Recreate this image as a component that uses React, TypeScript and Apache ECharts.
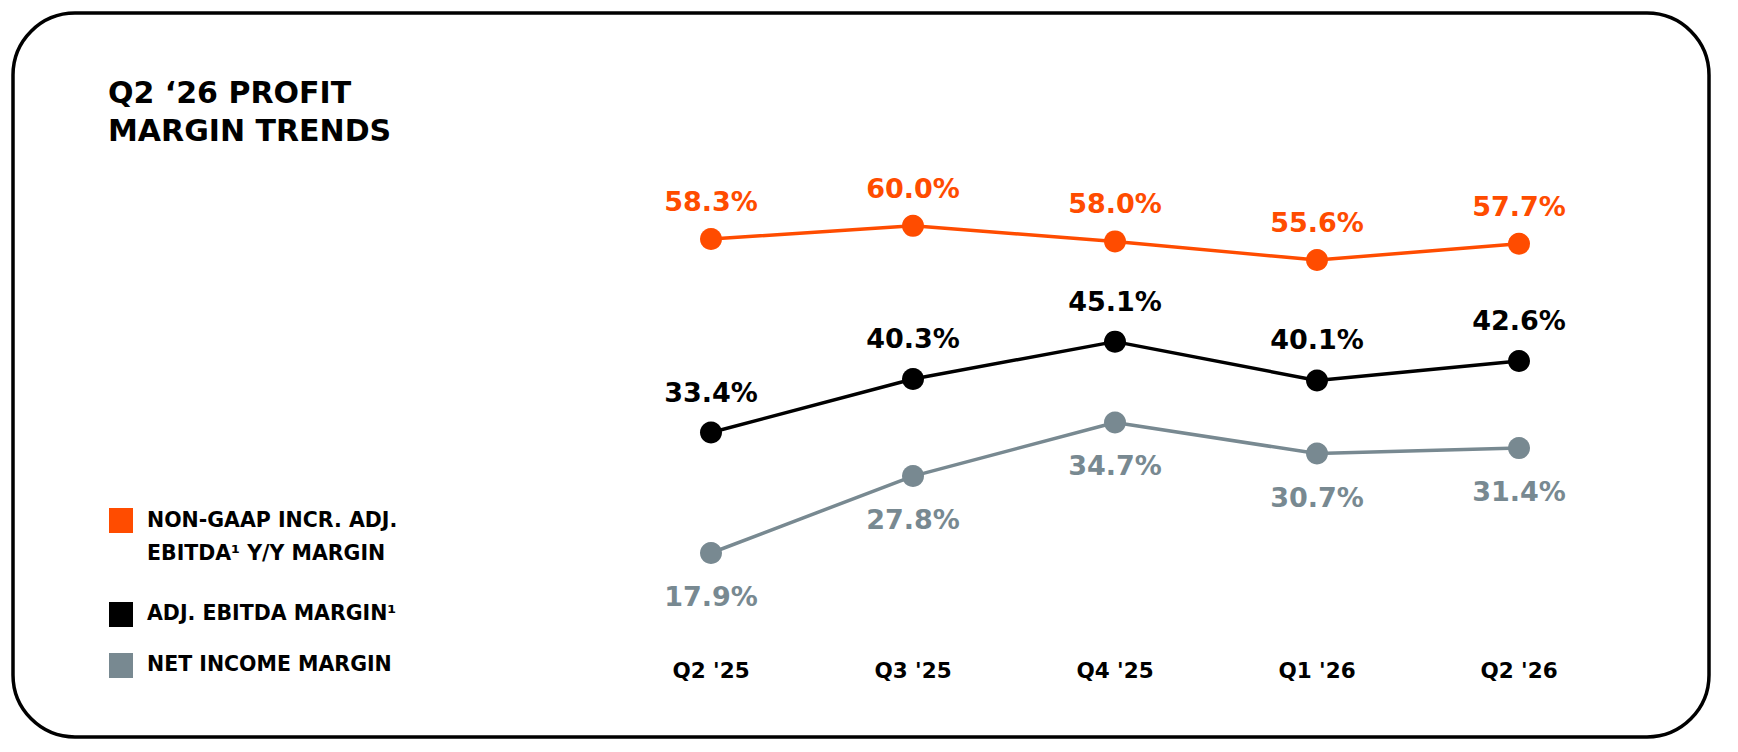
import React, { useEffect, useRef } from 'react'
import * as echarts from 'echarts'

const quarters = ["Q2 '25", "Q3 '25", "Q4 '25", "Q1 '26", "Q2 '26"]
const incrEbitdaMargin = [58.3, 60.0, 58.0, 55.6, 57.7]
const adjEbitdaMargin = [33.4, 40.3, 45.1, 40.1, 42.6]
const netIncomeMargin = [17.9, 27.8, 34.7, 30.7, 31.4]

const seriesNames = ['NON-GAAP INCR. ADJ.\nEBITDA¹ Y/Y MARGIN', 'ADJ. EBITDA MARGIN¹', 'NET INCOME MARGIN']
const seriesColors = ['#FF4C00', '#000000', '#788991']

const FONT = '"DejaVu Sans", Lato, sans-serif'

const App = () => {
  const chartRef = useRef<HTMLDivElement>(null)

  useEffect(() => {
    if (!chartRef.current) return
    const chart = echarts.init(chartRef.current, null, { renderer: 'svg' })

    const pct = (p: any) => `${Number(p.value).toFixed(1)}%`

    const makeSeries = (idx: number, data: number[], pos: string, dist: number) => ({
      name: seriesNames[idx],
      type: 'line',
      data,
      symbol: 'circle',
      symbolSize: 22,
      color: seriesColors[idx],
      lineStyle: { width: 3.5, color: seriesColors[idx] },
      itemStyle: { color: seriesColors[idx] },
      label: {
        show: true,
        position: pos,
        distance: dist,
        formatter: pct,
        color: seriesColors[idx],
        fontFamily: FONT,
        fontWeight: 'bold',
        fontSize: 27,
      },
    })

    // legend drawn by hand so the square lines up with the first text line
    const legendTops = [508, 602, 653]
    const legendTextTops = [503, 596.5, 647]
    const legendItems: any[] = []
    seriesNames.forEach((name, i) => {
      legendItems.push({
        type: 'rect',
        shape: { x: 109, y: legendTops[i], width: 24, height: 25 },
        style: { fill: seriesColors[i] },
      })
      legendItems.push({
        type: 'text',
        x: 147,
        y: legendTextTops[i],
        style: {
          text: name,
          fill: '#000',
          font: `bold 20.5px ${FONT}`,
          lineHeight: 33.5,
          verticalAlign: 'top',
        },
      })
    })

    const option = {
      animation: false,
      title: {
        text: 'Q2 ‘26 PROFIT\nMARGIN TRENDS',
        left: 108,
        top: 73,
        padding: 0,
        textStyle: {
          color: '#000',
          fontFamily: FONT,
          fontWeight: 'bold',
          fontSize: 30,
          lineHeight: 38,
        },
      },
      grid: { left: 711, right: 219, top: 187, bottom: 137.6 },
      xAxis: {
        type: 'category',
        data: quarters,
        boundaryGap: false,
        axisLine: { show: false },
        axisTick: { show: false },
        splitLine: { show: false },
        axisLabel: {
          margin: 45,
          color: '#000',
          fontFamily: FONT,
          fontWeight: 'bold',
          fontSize: 21.5,
        },
      },
      yAxis: {
        type: 'value',
        min: 10,
        max: 65,
        show: false,
        splitLine: { show: false },
      },
      graphic: [
        {
          type: 'rect',
          shape: { x: 13, y: 13, width: 1696, height: 724, r: 62 },
          style: { fill: 'none', stroke: '#000', lineWidth: 3.5 },
        },
        ...legendItems,
      ],
      series: [
        makeSeries(0, incrEbitdaMargin, 'top', 13),
        makeSeries(1, adjEbitdaMargin, 'top', 16),
        makeSeries(2, netIncomeMargin, 'bottom', 19),
      ],
    }

    chart.setOption(option)
    return () => {
      chart.dispose()
    }
  }, [])

  return (
    <div style={{ position: 'fixed', left: 0, top: 0, width: 1738, height: 752, background: '#fff' }}>
      <div ref={chartRef} style={{ width: '100%', height: '100%' }} />
    </div>
  )
}

export default App
